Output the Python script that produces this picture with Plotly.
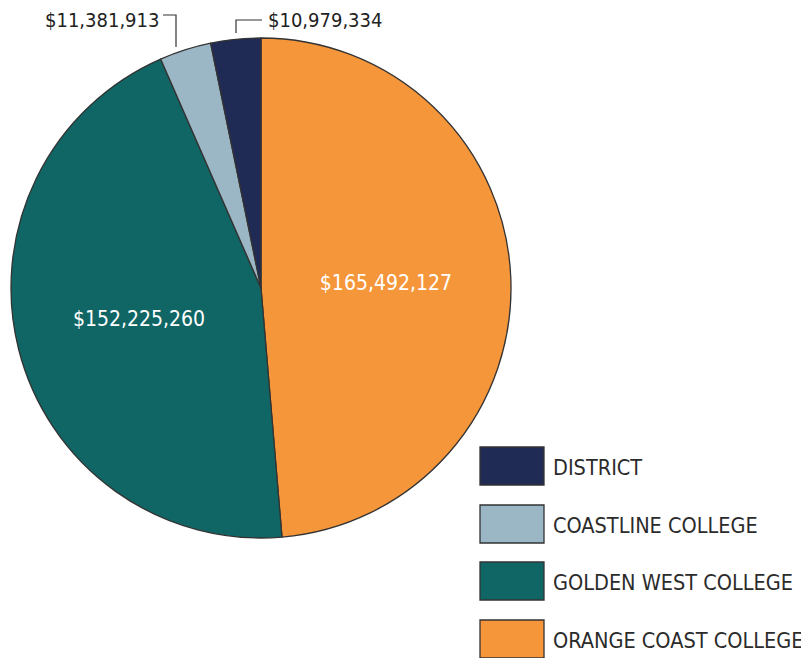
import plotly.graph_objects as go

labels = ["DISTRICT", "COASTLINE COLLEGE", "GOLDEN WEST COLLEGE", "ORANGE COAST COLLEGE"]
values = [10979334, 11381913, 152225260, 165492127]
colors = ["#1f2a55", "#9bb6c4", "#106565", "#f6963a"]

# page body has an 8px margin; figure is laid out in reference pixel coordinates
OFF = 8
W, H = 809 - OFF, 658 - OFF
FONT = "DejaVu Sans Condensed, Liberation Sans Narrow, Arial Narrow, sans-serif"

def px(x):
    return (x - OFF) / W

def py(y):
    return 1 - (y - OFF) / H

text = ["${:,}".format(v) for v in values]
textpos = ["none", "none", "inside", "inside"]

fig = go.Figure()
fig.add_trace(go.Pie(
    labels=labels[::-1], values=values[::-1], sort=False, direction="clockwise", rotation=0,
    marker=dict(colors=colors[::-1], line=dict(color="#333333", width=1.3)),
    text=text[::-1], textinfo="text", textposition=textpos[::-1],
    insidetextorientation="horizontal",
    textfont=dict(family=FONT, size=21, color="white"),
    domain=dict(x=[px(11), px(511)], y=[py(538), py(38)]),
    showlegend=False, hoverinfo="label+value",
))

shapes = []
annotations = []

# outside labels with elbow leaders
annotations.append(dict(x=px(161), y=py(20), xref="paper", yref="paper", text=text[1],
                        showarrow=False, xanchor="right", yanchor="middle",
                        font=dict(family=FONT, size=20, color="#222222")))
shapes.append(dict(type="path", xref="paper", yref="paper",
                   path=f"M {px(163)} {py(15)} L {px(176)} {py(15)} L {px(176)} {py(47)}",
                   line=dict(color="#333333", width=1.2)))
annotations.append(dict(x=px(266), y=py(20), xref="paper", yref="paper", text=text[0],
                        showarrow=False, xanchor="left", yanchor="middle",
                        font=dict(family=FONT, size=20, color="#222222")))
shapes.append(dict(type="path", xref="paper", yref="paper",
                   path=f"M {px(236)} {py(33)} L {px(236)} {py(20)} L {px(262)} {py(20)}",
                   line=dict(color="#333333", width=1.2)))

# manual legend
tops = [447, 505, 562, 620]
for lab, col, t in zip(labels, colors, tops):
    shapes.append(dict(type="rect", xref="paper", yref="paper",
                       x0=px(480), x1=px(544), y0=py(t + 38), y1=py(t),
                       fillcolor=col, line=dict(color="#333333", width=1.3)))
    annotations.append(dict(x=px(551), y=py(t + 20), xref="paper", yref="paper", text=lab,
                            showarrow=False, xanchor="left", yanchor="middle",
                            font=dict(family=FONT, size=21.5, color="#2b2b2b")))

fig.update_layout(
    width=W, height=H, margin=dict(l=0, r=0, t=0, b=0),
    paper_bgcolor="white", plot_bgcolor="white",
    shapes=shapes, annotations=annotations,
)
fig.write_html("out.html")
